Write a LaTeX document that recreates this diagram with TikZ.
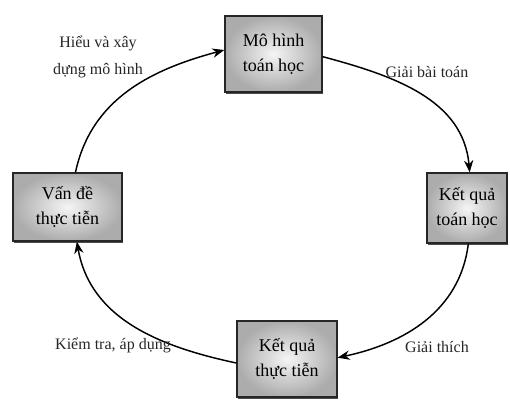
\documentclass[tikz,border=0pt]{standalone}
\usepackage{fontspec}
\setmainfont{Liberation Serif}
\usetikzlibrary{arrows.meta,shadows}
\begin{document}
\begin{tikzpicture}[x=0.75pt,y=0.75pt,
  stagebox/.style={rectangle,draw=black!85,line width=1pt,inner color=gray!8,outer color=gray!65,
    align=center,font=\fontsize{13.5}{19}\selectfont,inner sep=2pt,
    drop shadow={shadow xshift=1pt,shadow yshift=-1.2pt,fill=black,opacity=0.7}},
  flow/.style={line width=1.1pt,-{Stealth[length=9pt,width=7pt]}},
  lbl/.style={align=center,font=\fontsize{12}{20}\selectfont,text=black!85}]
\useasboundingbox (0,0) rectangle (510,401);
\node[stagebox,minimum width=72.75pt,minimum height=57pt] (mh) at (273.5,347) {Mô hình\\toán học};
\node[stagebox,minimum width=81.75pt,minimum height=51pt] (vd) at (67.5,194) {Vấn đề\\thực tiễn};
\node[stagebox,minimum width=60pt,minimum height=52.5pt] (kqt) at (467,193) {Kết quả\\toán học};
\node[stagebox,minimum width=75pt,minimum height=57pt] (kqtt) at (287,42) {Kết quả\\thực tiễn};
\draw[flow] ([xshift=6pt]vd.north) to[out=78,in=195] ([yshift=3pt]mh.west);
\draw[flow] ([yshift=-2pt]mh.east) to[out=-15,in=95] ([xshift=2pt]kqt.north);
\draw[flow] ([xshift=1pt]kqt.south) to[out=-97,in=12] ([yshift=1pt]kqtt.east);
\draw[flow] ([yshift=-3pt]kqtt.west) to[out=168,in=-80] ([xshift=7pt]vd.south);
\node[lbl] (l1) at (98,344) {Hiểu và xây\\dựng mô hình};
\node[lbl] (l2) at (427,329) {Giải bài toán};
\node[lbl] (l3) at (113,56) {Kiểm tra, áp dụng};
\node[lbl] (l4) at (437,54) {Giải thích};
\end{tikzpicture}
\end{document}
